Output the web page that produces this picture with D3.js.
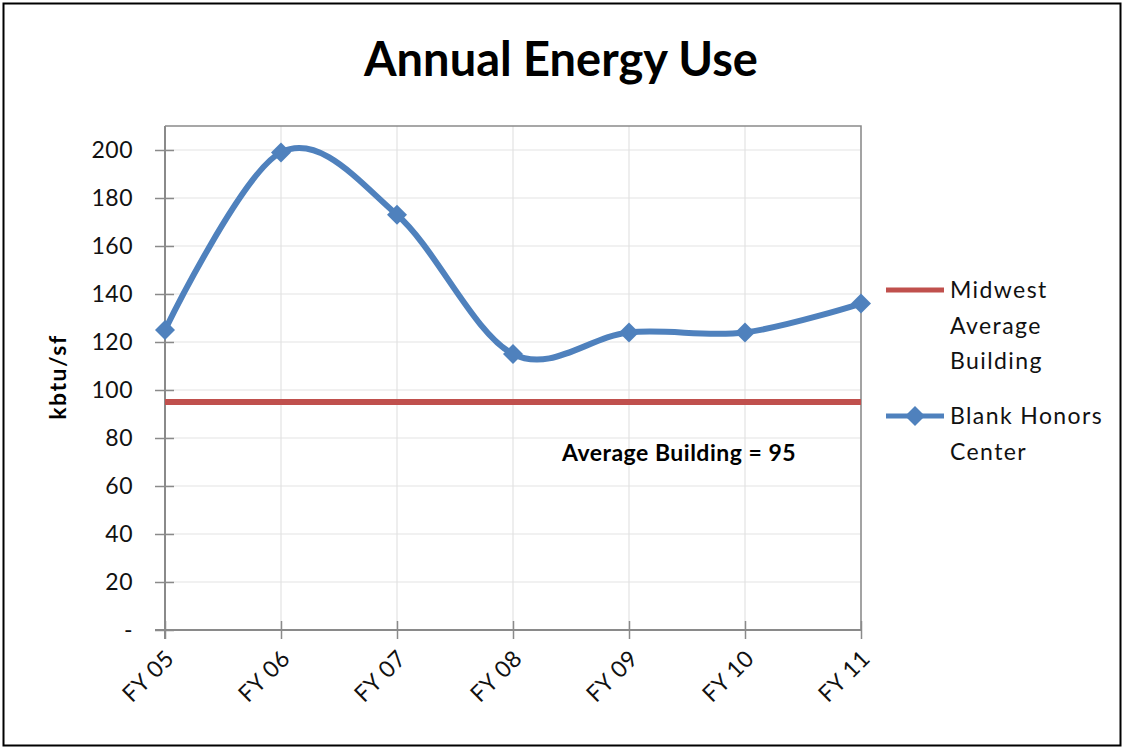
<!DOCTYPE html>
<html>
<head>
<meta charset="utf-8">
<script src="https://cdn.jsdelivr.net/npm/d3@7"></script>
<style>
  body { margin: 0; background: #fff; }
  text { font-family: Lato, "Open Sans", sans-serif; }
</style>
</head>
<body>
<script>
// chart data
const years = ["FY 05", "FY 06", "FY 07", "FY 08", "FY 09", "FY 10", "FY 11"];
const honorsCenter = [125, 199, 173, 115, 124, 124, 136];
const midwestAvg = [95, 95, 95, 95, 95, 95, 95];
const yTicks = [0, 20, 40, 60, 80, 100, 120, 140, 160, 180, 200];
const yTickLabels = ["-", "20", "40", "60", "80", "100", "120", "140", "160", "180", "200"];
const seriesNames = [["Midwest", "Average", "Building"], ["Blank Honors", "Center"]];

const width = 1128, height = 750;
const plot = {left: 165, right: 861, top: 126, bottom: 630};
const blue = "#4f81bd", red = "#c0504d";

const svg = d3.select("body").append("svg")
    .attr("width", width)
    .attr("height", height);

// outer frame
svg.append("rect")
    .attr("x", 3.5).attr("y", 3.5)
    .attr("width", 1117).attr("height", 742)
    .attr("fill", "#fff")
    .attr("stroke", "#000")
    .attr("stroke-width", 2);

svg.append("text")
    .attr("x", 561).attr("y", 76)
    .attr("text-anchor", "middle")
    .attr("font-size", 47)
    .attr("font-weight", "bold")
    .text("Annual Energy Use");

const xScale = d3.scalePoint()
    .domain(years)
    .range([plot.left, plot.right]);

const yScale = d3.scaleLinear()
    .domain([0, 210])
    .range([plot.bottom, plot.top]);

// gridlines
svg.append("g").selectAll("line")
    .data(yTicks.slice(1))
    .join("line")
    .attr("x1", plot.left).attr("x2", plot.right)
    .attr("y1", d => yScale(d)).attr("y2", d => yScale(d))
    .attr("stroke", "#e3e3e3").attr("stroke-width", 1.2);

svg.append("g").selectAll("line")
    .data(years.slice(1))
    .join("line")
    .attr("x1", d => xScale(d)).attr("x2", d => xScale(d))
    .attr("y1", plot.top).attr("y2", plot.bottom)
    .attr("stroke", "#e3e3e3").attr("stroke-width", 1.2);

// plot border (top/right)
svg.append("path")
    .attr("d", `M${plot.left},${plot.top}H${plot.right}V${plot.bottom}`)
    .attr("fill", "none")
    .attr("stroke", "#8a8a8a")
    .attr("stroke-width", 1.5);

// y axis
const yAxis = d3.axisLeft(yScale)
    .tickValues(yTicks)
    .tickSize(10)
    .tickPadding(22)
    .tickFormat((d, i) => yTickLabels[i]);
const gy = svg.append("g")
    .attr("transform", "translate(" + plot.left + ",0)")
    .call(yAxis);
gy.select(".domain").attr("d", `M0,${plot.top}V${plot.bottom + 9}`);
gy.selectAll(".tick line").attr("x1", 9);

// x axis
const xAxis = d3.axisBottom(xScale).tickSize(9);
const gx = svg.append("g")
    .attr("transform", "translate(0," + plot.bottom + ")")
    .call(xAxis);
gx.select(".domain").attr("d", `M${plot.left - 10},0H${plot.right}`);
gx.selectAll(".tick line").attr("y1", -9);
gx.selectAll(".tick text")
    .attr("text-anchor", "end")
    .attr("y", 0)
    .attr("dy", 0)
    .attr("transform", "translate(10,30) rotate(-45)");

[gx, gy].forEach(g => {
    g.select(".domain").attr("stroke", "#8a8a8a").attr("stroke-width", 2);
    g.selectAll(".tick line").attr("stroke", "#8a8a8a").attr("stroke-width", 1.5);
    g.selectAll(".tick text")
        .attr("font-size", 23)
        .attr("letter-spacing", 0.5)
        .attr("fill", "#111")
        .style("font-family", "Lato, 'Open Sans', sans-serif");
});

svg.append("text")
    .attr("transform", "translate(66,377) rotate(-90)")
    .attr("text-anchor", "middle")
    .attr("font-size", 23)
    .attr("letter-spacing", 1.5)
    .attr("font-weight", "bold")
    .text("kbtu/sf");

// midwest average line
const straight = d3.line()
    .x((d, i) => xScale(years[i]))
    .y(d => yScale(d));
svg.append("path")
    .datum(midwestAvg)
    .attr("d", straight)
    .attr("fill", "none")
    .attr("stroke", red)
    .attr("stroke-width", 6);

// honors center smoothed line
const smooth = d3.line()
    .x((d, i) => xScale(years[i]))
    .y(d => yScale(d))
    .curve(d3.curveCardinal.tension(0));
svg.append("path")
    .datum(honorsCenter)
    .attr("d", smooth)
    .attr("fill", "none")
    .attr("stroke", blue)
    .attr("stroke-width", 6);

const diamond = d3.symbol().type(d3.symbolSquare).size(200);
svg.append("g").selectAll("path")
    .data(honorsCenter)
    .join("path")
    .attr("d", diamond)
    .attr("transform", (d, i) => "translate(" + xScale(years[i]) + "," + yScale(d) + ") rotate(45)")
    .attr("fill", blue);

svg.append("text")
    .attr("x", 679).attr("y", 461)
    .attr("text-anchor", "middle")
    .attr("font-size", 23)
    .attr("font-weight", "bold")
    .attr("letter-spacing", 0.5)
    .text("Average Building = " + midwestAvg[0]);

// legend
const legend = svg.append("g");
const legendRows = [
    {y: 290, color: red, marker: false, lines: seriesNames[0]},
    {y: 416, color: blue, marker: true, lines: seriesNames[1]}
];
legendRows.forEach(r => {
    legend.append("line")
        .attr("x1", 886).attr("x2", 944)
        .attr("y1", r.y).attr("y2", r.y)
        .attr("stroke", r.color)
        .attr("stroke-width", 5);
    if (r.marker) {
        legend.append("path")
            .attr("d", diamond)
            .attr("transform", "translate(915," + r.y + ") rotate(45)")
            .attr("fill", r.color);
    }
    const t = legend.append("text")
        .attr("x", 950).attr("y", r.y + 8)
        .attr("font-size", 23)
        .attr("letter-spacing", 1.4)
        .attr("fill", "#111");
    r.lines.forEach((s, i) => {
        t.append("tspan").attr("x", 950).attr("dy", i ? 35.5 : 0).text(s);
    });
});
</script>
</body>
</html>
